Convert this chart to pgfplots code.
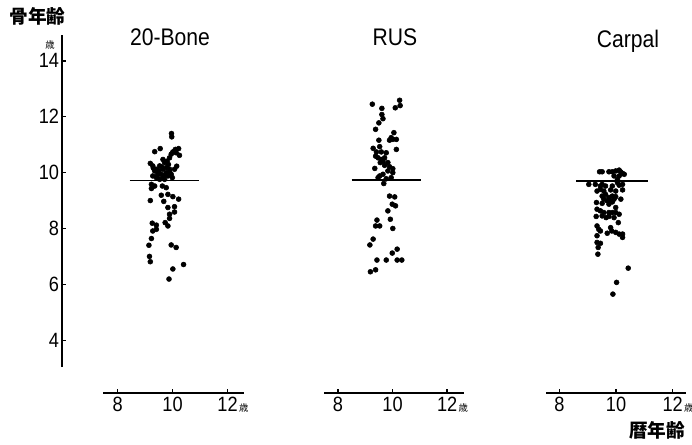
\documentclass[border=0pt]{standalone}
\usepackage{fontspec}
\setmainfont{Liberation Sans}[FakeStretch=0.88]
\newfontfamily\cjk{Noto Sans CJK JP}
\usepackage{pgfplots}
\pgfplotsset{compat=1.18}

% shared look of the three scatter panels
\pgfplotsset{
  every tick label/.append style={font=\fontsize{15.5}{17}\selectfont},
  panel/.style={
    y=20.95pt, ymin=2.10, ymax=13,
    axis x line=bottom, axis y line=none,
    axis line style={line width=1.2pt, -},
    tick align=inside, major tick length=3pt,
    tick style={line width=1pt, black},
    xtick={8,10,12},
    xticklabels={8,10,{12\rlap{\hspace{1pt}\cjk\fontsize{7}{8}\selectfont 歳}}},
    xticklabel style={inner ysep=3pt, font=\fontsize{15.5}{17}\selectfont},
    clip=false,
    anchor=south west,
  },
  dots/.style={only marks, mark=*, mark size=1.85pt, black},
  meanline/.style={black, line width=1pt},
}

\begin{document}
\begin{tikzpicture}
\path[use as bounding box] (0,0) rectangle (519pt,333pt);

% shared y axis
\begin{axis}[
  at={(46.5pt,57.75pt)}, anchor=south west,
  x=0.75pt, xmin=0, xmax=10,
  y=20.95pt, ymin=3.04, ymax=14.93,
  axis y line=left, axis x line=none,
  axis line style={line width=1.2pt, -},
  tick align=inside, major tick length=3pt,
  tick style={line width=1pt, black},
  ytick={4,6,8,10,12,14},
  yticklabels={4,6,8,10,12,14},
  yticklabel style={inner xsep=2pt},
]
\end{axis}

% 20-Bone
\begin{axis}[panel, at={(77.25pt,38.25pt)}, x=20.625pt, xmin=7.47, xmax=12.59]
\addplot[meanline] coordinates {(8.44,9.71) (10.96,9.71)};
\addplot[dots] coordinates {
(9.96,11.39) (9.97,11.27) (9.35,10.74) (9.55,10.85) (10.01,10.73) (10.10,10.82)
(10.22,10.85) (10.13,10.70) (10.25,10.61) (9.95,10.65) (9.89,10.52)
(9.19,10.32) (9.28,10.23) (9.65,10.46) (9.71,10.35) (9.53,10.23) (9.41,10.11)
(9.65,10.11) (9.77,10.17) (9.89,10.11) (10.07,10.11) (9.47,9.99) (9.59,9.93)
(9.77,9.99) (9.95,9.93) (9.28,9.87) (9.41,9.81) (9.65,9.81) (9.83,9.87)
(9.99,9.81) (9.53,9.75) (9.71,9.75) (9.35,10.05) (9.50,10.05) (9.60,10.20)
(9.85,10.28) (9.72,9.90) (9.45,9.90) (9.90,10.00) (10.15,10.22) (9.30,10.15)
(9.80,10.40)
(9.23,9.57) (9.35,9.51) (9.23,9.42) (9.63,9.51) (9.77,9.45) (9.83,9.21)
(10.01,9.13) (10.22,9.04) (9.59,9.18) (9.68,8.96) (9.19,8.99) (9.83,8.74)
(10.07,8.77) (10.07,8.58) (9.89,8.50) (9.89,8.35) (9.73,8.20) (9.83,8.08)
(9.26,8.18) (9.41,8.11) (9.28,7.90) (9.41,7.96) (9.23,7.63) (9.14,7.39)
(9.95,7.40) (10.13,7.31) (9.16,6.99) (9.19,6.80) (10.40,6.70) (10.01,6.54)
(9.87,6.18)
};
\end{axis}

% RUS
\begin{axis}[panel, at={(243pt,38.25pt)}, x=20.475pt, xmin=7.49, xmax=12.62]
\addplot[meanline] coordinates {(8.50,9.72) (11.06,9.72)};
\addplot[dots] coordinates {
(9.26,12.44) (9.61,12.29) (10.26,12.58) (10.28,12.39) (10.10,12.31) (9.61,12.07)
(9.65,11.92) (9.50,11.77) (9.38,11.54) (10.05,11.42) (9.95,11.24) (10.01,11.18)
(10.14,11.18) (9.89,11.15) (9.50,11.15) (10.14,10.82) (9.29,10.86) (9.53,10.92)
(9.41,10.73) (9.59,10.73) (9.77,10.70) (9.38,10.58) (9.47,10.52) (9.59,10.46)
(9.71,10.52) (9.65,10.40) (9.83,10.35) (9.55,10.35) (9.71,10.25) (9.89,10.20)
(9.35,10.14) (10.01,10.13) (10.01,9.99) (9.83,10.05) (9.65,9.93) (9.53,9.87)
(9.47,9.81) (9.95,9.81) (9.77,9.77) (9.68,9.60)
(9.89,9.15) (10.08,9.12) (9.99,8.86) (10.11,8.80) (9.83,8.62) (9.43,8.29)
(9.38,8.08) (9.53,8.08) (9.92,8.32) (10.01,7.99) (9.29,7.61) (9.17,7.40)
(10.17,7.25) (9.99,7.11) (9.43,6.86) (9.77,6.86) (10.17,6.86) (10.34,6.86)
(9.19,6.44) (9.38,6.51)
};
\end{axis}

% Carpal
\begin{axis}[panel, at={(409.5pt,38.25pt)}, x=21.26pt, xmin=7.53, xmax=12.47]
\addplot[meanline] coordinates {(8.59,9.69) (11.14,9.69)};
\addplot[dots] coordinates {
(9.42,10.02) (9.51,10.02) (9.75,10.02) (9.87,10.02) (9.99,10.05) (10.11,10.08)
(10.17,10.01) (10.23,9.96) (10.29,9.93) (9.93,9.87) (10.11,9.87) (10.05,9.75)
(9.04,9.57) (9.27,9.57) (9.45,9.51) (9.51,9.57) (9.63,9.51) (9.87,9.51)
(10.11,9.54) (10.23,9.57) (10.05,9.63)
(9.33,9.33) (9.45,9.39) (9.57,9.33) (9.81,9.37) (9.99,9.33) (10.23,9.37)
(9.51,9.15) (9.63,9.21) (9.75,9.10) (9.87,9.15) (9.99,9.13) (10.17,9.04)
(9.57,9.04) (9.69,8.98) (9.81,8.98) (9.93,9.04)
(9.31,8.92) (9.51,8.89) (9.75,8.86) (9.87,8.94) (9.99,8.74)
(9.33,8.68) (9.45,8.62) (9.57,8.56) (9.75,8.56) (9.87,8.56) (9.99,8.56)
(10.11,8.50) (9.30,8.42) (9.65,8.38) (9.75,8.42) (9.51,8.44) (9.93,8.38)
(10.08,8.20)
(9.33,8.08) (9.39,7.96) (9.45,7.90) (9.81,8.02) (9.85,7.90) (9.69,7.82)
(9.99,7.85) (10.11,7.79) (10.23,7.79) (10.23,7.67) (9.33,7.73)
(9.33,7.49) (9.45,7.46) (9.37,7.31) (9.36,7.07)
(10.43,6.57) (10.02,6.06) (9.89,5.64)
};
\end{axis}

% titles and axis names
\node[anchor=base, font=\fontsize{18}{21}\selectfont] at (127.5pt,299.25pt) {20-Bone};
\node[anchor=base, font=\fontsize{18}{21}\selectfont] at (296.25pt,298.5pt) {RUS};
\node[anchor=base, font=\fontsize{18}{21}\selectfont] at (471pt,297.75pt) {Carpal};
\node[font=\cjk\bfseries\fontsize{14}{16}\selectfont] at (28.1pt,320.6pt) {骨年齢};
\node[font=\cjk\bfseries\fontsize{14}{16}\selectfont] at (492.75pt,10.5pt) {暦年齢};
\node[font=\cjk\fontsize{7}{8}\selectfont] at (37.5pt,299.25pt) {歳};
\end{tikzpicture}
\end{document}
